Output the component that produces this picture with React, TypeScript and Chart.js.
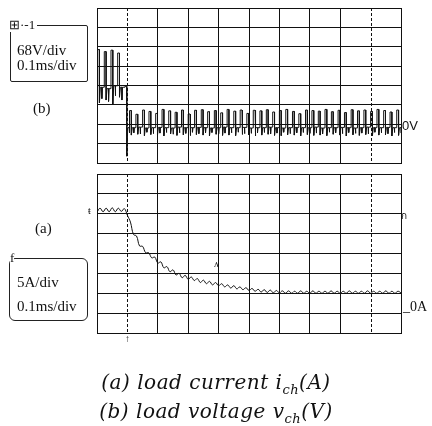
import React, { useEffect, useRef } from "react";
import { Chart, registerables } from "chart.js";

Chart.register(...registerables);

// ---- axes (oscilloscope divisions) ----
const timeMin = 0; // ms
const timeMax = 1.0; // ms, 10 div x 0.1 ms/div
const timeStep = 0.1;
const dashedDivs = [0.1, 0.9];

const voltMin = -136; // 68 V/div, 0 V two divisions above bottom
const voltMax = 408;
const voltStep = 68;

const ampMin = -5; // 5 A/div, 0 A one division above bottom
const ampMax = 35;
const ampStep = 5;

// ---- (b) load voltage v_ch : switching pulses ----
const vStart = [
  0.002, 0.024, 0.046, 0.068, 0.092,
  0.107, 0.128, 0.150, 0.171, 0.193, 0.214, 0.236, 0.257, 0.278, 0.300,
  0.321, 0.343, 0.364, 0.386, 0.407, 0.428, 0.450, 0.471, 0.493, 0.514,
  0.536, 0.557, 0.578, 0.600, 0.621, 0.643, 0.664, 0.686, 0.707, 0.728,
  0.750, 0.771, 0.793, 0.814, 0.836, 0.857, 0.878, 0.900, 0.921, 0.943,
  0.964, 0.986,
];
const vHigh = [
  262, 255, 260, 250, 133,
  48, 35, 50, 45, 38, 52, 47, 42, 50, 36,
  49, 51, 44, 48, 40, 52, 46, 50, 38, 49,
  47, 51, 43, 48, 52, 45, 37, 50, 48, 46,
  52, 44, 49, 41, 51, 47, 50, 45, 52, 48,
  43, 50,
];
const vSpike = [
  75, 85, 70, 95, -112,
  -38, -35, -40, -36, -38, -41, -34, -39, -37, -40,
  -36, -38, -41, -35, -39, -38, -40, -36, -37, -41,
  -38, -35, -39, -40, -37, -38, -41, -36, -39, -38,
  -40, -35, -38, -41, -37, -39, -36, -40, -38, -37,
  -41, -39,
];
const vSpike2 = [
  90, 80, 100, 85, -30,
  -30, -34, -28, -33, -31, -29, -35, -30, -32, -28,
  -33, -30, -29, -34, -31, -30, -28, -33, -32, -30,
  -29, -34, -31, -28, -33, -30, -29, -32, -31, -34,
  -28, -30, -33, -29, -32, -31, -34, -28, -30, -33,
  -29, -31,
];
const vRest = [
  130, 125, 135, 130, -12,
  -12, -10, -13, -12, -11, -12, -13, -10, -12, -12,
  -11, -12, -13, -12, -10, -12, -12, -11, -13, -12,
  -12, -10, -12, -13, -12, -11, -12, -12, -10, -13,
  -12, -12, -11, -12, -13, -12, -10, -12, -12, -11,
  -12, -12,
];
const vPulseWidth = 0.006; // ms
const vSpikeWidth = 0.003; // ms
const vSpike2Delay = 0.008; // ms after pulse end

// ---- (a) load current i_ch ----
const iTime = [
  0.00, 0.01, 0.02, 0.03, 0.04, 0.05, 0.06, 0.07, 0.08, 0.09,
  0.10, 0.11, 0.12, 0.13, 0.14, 0.15, 0.16, 0.17, 0.18, 0.19,
  0.20, 0.21, 0.22, 0.23, 0.24, 0.25, 0.26, 0.27, 0.28, 0.29,
  0.30, 0.31, 0.32, 0.33, 0.34, 0.35, 0.36, 0.37, 0.38, 0.39,
  0.40, 0.41, 0.42, 0.43, 0.44, 0.45, 0.46, 0.47, 0.48, 0.49,
  0.50, 0.51, 0.52, 0.53, 0.54, 0.55, 0.56, 0.57, 0.58, 0.59,
  0.60, 0.61, 0.62, 0.63, 0.64, 0.65, 0.66, 0.67, 0.68, 0.69,
  0.70, 0.71, 0.72, 0.73, 0.74, 0.75, 0.76, 0.77, 0.78, 0.79,
  0.80, 0.81, 0.82, 0.83, 0.84, 0.85, 0.86, 0.87, 0.88, 0.89,
  0.90, 0.91, 0.92, 0.93, 0.94, 0.95, 0.96, 0.97, 0.98, 0.99,
  1.00,
];
const iAmps = [
  25.4, 26.4, 25.5, 26.4, 25.5, 26.5, 25.5, 26.4, 25.6, 26.3,
  24.6, 22.9, 19.8, 19.4, 16.9, 16.8, 15.2, 15.2, 13.9, 14.1,
  12.6, 12.9, 11.4, 11.7, 10.4, 10.9, 9.6, 10.0, 8.9, 9.5,
  8.5, 9.1, 8.2, 8.7, 7.7, 8.3, 7.4, 8.0, 7.1, 7.7,
  6.9, 7.4, 6.6, 7.1, 6.3, 6.9, 6.1, 6.6, 5.9, 6.4,
  5.7, 6.2, 5.5, 6.0, 5.3, 5.9, 5.2, 5.8, 5.1, 5.7,
  5.1, 5.6, 5.0, 5.6, 5.0, 5.5, 5.0, 5.6, 5.0, 5.5,
  5.0, 5.6, 5.0, 5.5, 5.0, 5.5, 5.0, 5.6, 5.0, 5.5,
  5.0, 5.5, 5.0, 5.6, 5.0, 5.5, 5.0, 5.5, 5.0, 5.6,
  5.0, 5.5, 5.0, 5.5, 5.0, 5.6, 5.0, 5.5, 5.0, 5.5,
  5.1,
];

function buildVoltage() {
  const pts: { x: number; y: number }[] = [];
  for (let i = 0; i < vStart.length; i++) {
    const t = vStart[i];
    const prevRest = i === 0 ? vRest[0] : vRest[i - 1];
    if (i === 0) pts.push({ x: timeMin, y: prevRest });
    pts.push({ x: t, y: prevRest });
    pts.push({ x: t, y: vHigh[i] });
    const te = t + vPulseWidth;
    pts.push({ x: te, y: vHigh[i] });
    pts.push({ x: te, y: vSpike[i] });
    pts.push({ x: te + vSpikeWidth, y: vRest[i] });
    pts.push({ x: te + vSpike2Delay, y: vRest[i] });
    pts.push({ x: te + vSpike2Delay, y: vSpike2[i] });
    pts.push({ x: te + vSpike2Delay + vSpikeWidth * 0.6, y: vRest[i] });
  }
  pts.push({ x: timeMax, y: vRest[vRest.length - 1] });
  return pts;
}

function buildCurrent() {
  return iTime.map((t, k) => ({ x: t, y: iAmps[k] }));
}

const GRID = "#111";
const isDashed = (v: number) => dashedDivs.some((d) => Math.abs(d - v) < 1e-6);

const dashedPlugin = {
  id: "dashedDivs",
  beforeDatasetsDraw(chart: any) {
    const { ctx, chartArea, scales } = chart;
    ctx.save();
    ctx.strokeStyle = GRID;
    ctx.lineWidth = 1;
    ctx.setLineDash([3, 2]);
    dashedDivs.forEach((d) => {
      const x = Math.round(scales.x.getPixelForValue(d)) + 0.5;
      ctx.beginPath();
      ctx.moveTo(x, chartArea.top);
      ctx.lineTo(x, chartArea.bottom);
      ctx.stroke();
    });
    ctx.restore();
  },
};

function makeConfig(points: any[], yMin: number, yMax: number, yStep: number, pad: any, tension: number) {
  return {
    type: "line" as const,
    data: {
      datasets: [
        {
          data: points,
          borderColor: "#111",
          borderWidth: 1,
          pointRadius: 0,
          tension,
          fill: false,
        },
      ],
    },
    options: {
      animation: false as const,
      responsive: false,
      events: [],
      layout: { padding: pad },
      plugins: { legend: { display: false }, tooltip: { enabled: false } },
      scales: {
        x: {
          type: "linear" as const,
          min: timeMin,
          max: timeMax,
          ticks: { display: false, stepSize: timeStep },
          grid: {
            drawTicks: false,
            lineWidth: 1,
            color: (c: any) => (c.tick && isDashed(c.tick.value) ? "rgba(0,0,0,0)" : GRID),
          },
          border: { display: true, color: GRID, width: 1 },
        },
        y: {
          type: "linear" as const,
          min: yMin,
          max: yMax,
          ticks: { display: false, stepSize: yStep },
          grid: { drawTicks: false, lineWidth: 1, color: GRID },
          border: { display: true, color: GRID, width: 1 },
        },
      },
    },
    plugins: [dashedPlugin],
  };
}

const serif = "'Liberation Serif', 'Times New Roman', serif";

export default function App() {
  const topRef = useRef<HTMLCanvasElement>(null);
  const botRef = useRef<HTMLCanvasElement>(null);

  useEffect(() => {
    const top = new Chart(
      topRef.current!,
      makeConfig(buildVoltage(), voltMin, voltMax, voltStep, { left: 97, top: 8, right: 31, bottom: 263 }, 0) as any
    );
    const bot = new Chart(
      botRef.current!,
      makeConfig(buildCurrent(), ampMin, ampMax, ampStep, { left: 97, top: 174, right: 31, bottom: 93 }, 0.4) as any
    );
    return () => {
      top.destroy();
      bot.destroy();
    };
  }, []);

  const abs = (l: number, t: number, extra: any = {}) => ({
    position: "absolute" as const,
    left: l,
    top: t,
    whiteSpace: "nowrap" as const,
    ...extra,
  });

  return (
    <div style={{ position: "fixed", left: 0, top: 0, width: 432, height: 426, background: "#fff", overflow: "hidden", color: "#111" }}>
      <canvas ref={topRef} width={432} height={426} style={{ position: "absolute", left: 0, top: 0 }} />
      <canvas ref={botRef} width={432} height={426} style={{ position: "absolute", left: 0, top: 0 }} />

      {/* top channel box */}
      <div style={abs(10, 25, { width: 76, height: 55, border: "1px solid #222", borderRadius: 2 })} />
      <div style={abs(7, 17, { font: `13px ${serif}`, background: "#fff", padding: "0 2px", lineHeight: "15px" })}>⊞·-1</div>
      <div style={abs(17, 42, { font: `15px ${serif}`, lineHeight: "16px" })}>68V/div</div>
      <div style={abs(17, 57, { font: `15px ${serif}`, lineHeight: "16px" })}>0.1ms/div</div>
      <div style={abs(33, 100, { font: `15px ${serif}`, lineHeight: "16px" })}>(b)</div>
      <div style={abs(402, 119, { font: "13px 'Liberation Sans', sans-serif", lineHeight: "14px" })}>0V</div>

      {/* bottom channel box */}
      <div style={abs(35, 220, { font: `15px ${serif}`, lineHeight: "16px" })}>(a)</div>
      <div style={abs(9, 258, { width: 77, height: 61, border: "1px solid #222", borderRadius: 6 })} />
      <div style={abs(10, 251, { font: `13px ${serif}`, background: "#fff", lineHeight: "14px" })}>f</div>
      <div style={abs(17, 274, { font: `15px ${serif}`, lineHeight: "16px" })}>5A/div</div>
      <div style={abs(17, 298, { font: `15px ${serif}`, lineHeight: "16px" })}>0.1ms/div</div>
      <div style={abs(403, 299, { font: `14px ${serif}`, lineHeight: "16px" })}>_0A</div>
      <div style={abs(88, 205, { font: `10px ${serif}`, lineHeight: "12px" })}>ŧ</div>
      <div style={abs(401, 210, { font: `10px ${serif}`, lineHeight: "12px" })}>ก</div>
      <div style={abs(214, 258, { font: `10px ${serif}`, lineHeight: "12px" })}>ʌ</div>
      <div style={abs(125, 333, { font: `10px ${serif}`, lineHeight: "12px" })}>↑</div>

      {/* caption */}
      <div style={abs(0, 368, { width: 432, textAlign: "center", font: `italic 20px 'DejaVu Serif', serif`, letterSpacing: "0.5px", lineHeight: "29px" })}>
        (a) load current <span>i<sub style={{ fontSize: "13px", lineHeight: 0 }}>ch</sub>(A)</span>
        <br />
        (b) load voltage <span>v<sub style={{ fontSize: "13px", lineHeight: 0 }}>ch</sub>(V)</span>
      </div>
    </div>
  );
}
